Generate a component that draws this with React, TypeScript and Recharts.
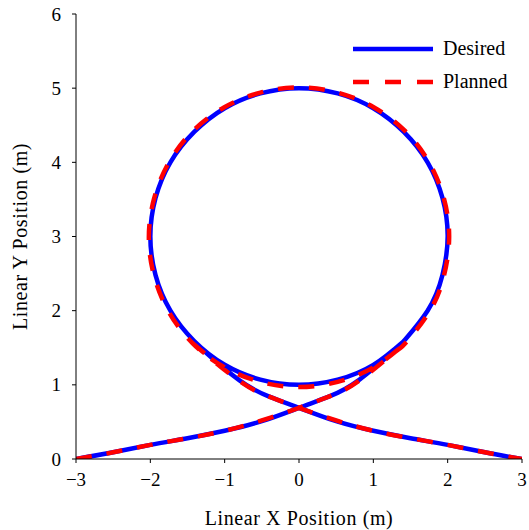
import { LineChart, Line, XAxis, YAxis, Label } from "recharts"

// path of each run: left branch + loop, then a break (null), then right branch
const desiredX = [
  -3, -2.5, -2, -1.5, -1, -0.5, 0, 0.4, 0.8, 1.29,
  1.41, 1.73, 1.93, 2.0, 1.93, 1.73, 1.41, 1.0, 0.52, 0, -0.52, -1.0, -1.41, -1.73, -1.93,
  -2.0, -1.93, -1.73, -1.41, -1.0, -0.52, 0, 0.52, 1.0, 1.41,
  1.41,
  -1.41, -1.29, -0.8, -0.4, 0, 0.5, 1, 1.5, 2, 2.5, 3,
]
const desiredY = [
  0, 0.09, 0.19, 0.28, 0.38, 0.51, 0.69, 0.84, 1.06, 1.47,
  1.59, 2.0, 2.48, 3.0, 3.52, 4.0, 4.41, 4.73, 4.93, 5.0, 4.93, 4.73, 4.41, 4.0, 3.52,
  3.0, 2.48, 2.0, 1.59, 1.27, 1.07, 1.0, 1.07, 1.27, 1.59,
  null,
  1.59, 1.47, 1.06, 0.84, 0.69, 0.51, 0.38, 0.28, 0.19, 0.09, 0,
]

const plannedX = [
  -3, -2.5, -2, -1.5, -1, -0.5, 0, 0.4, 0.8, 1.3,
  1.43, 1.75, 1.95, 2.02, 1.95, 1.75, 1.43, 1.01, 0.52, 0, -0.52, -1.01, -1.43, -1.75, -1.95,
  -2.02, -1.95, -1.75, -1.43, -1.01, -0.52, 0, 0.52, 1.01, 1.43,
  1.43,
  -1.43, -1.3, -0.8, -0.4, 0, 0.5, 1, 1.5, 2, 2.5, 3,
]
const plannedY = [
  0, 0.09, 0.19, 0.28, 0.38, 0.52, 0.69, 0.84, 1.05, 1.45,
  1.56, 1.98, 2.47, 2.99, 3.51, 4.0, 4.42, 4.74, 4.94, 5.01, 4.94, 4.74, 4.42, 4.0, 3.51,
  2.99, 2.47, 1.98, 1.56, 1.24, 1.04, 0.97, 1.04, 1.24, 1.56,
  null,
  1.56, 1.45, 1.05, 0.84, 0.69, 0.52, 0.38, 0.28, 0.19, 0.09, 0,
]

const xTicks = [-3, -2, -1, 0, 1, 2, 3]
const yTicks = [0, 1, 2, 3, 4, 5, 6]

const desired = desiredX.map((x, i) => ({ x, y: desiredY[i] }))
const planned = plannedX.map((x, i) => ({ x, y: plannedY[i] }))

const font = "'Liberation Serif', 'Times New Roman', serif"
const minus = (v: number) => String(v).replace("-", "\u2212")

function XTick({ x, y, payload }: any) {
  return (
    <text x={x} y={y + 14} textAnchor="middle" fontFamily={font} fontSize={19} fill="#000">
      {minus(payload.value)}
    </text>
  )
}

function YTick({ x, y, payload }: any) {
  return (
    <text x={x} y={y + 6.5} textAnchor="end" fontFamily={font} fontSize={19} fill="#000">
      {minus(payload.value)}
    </text>
  )
}

function LegendBox() {
  return (
    <svg width={170} height={70} style={{ position: "absolute", left: 350, top: 30 }}>
      <line x1={3} y1={19} x2={83} y2={19} stroke="#0000ff" strokeWidth={4.5} />
      <text x={93} y={25} fontFamily={font} fontSize={20} fill="#000">Desired</text>
      <line x1={3} y1={52} x2={83} y2={52} stroke="#ff0000" strokeWidth={4.5} strokeDasharray="16 16" />
      <text x={93} y={58} fontFamily={font} fontSize={20} fill="#000">Planned</text>
    </svg>
  )
}

export default function App() {
  return (
    <div style={{ position: "absolute", left: 0, top: 0, width: 529, height: 530, background: "#fff" }}>
      <LineChart width={529} height={530} margin={{ top: 14, right: 7, bottom: 0, left: 0 }}>
        <XAxis
          type="number"
          dataKey="x"
          domain={[-3, 3]}
          ticks={xTicks}
          allowDataOverflow
          tick={<XTick />}
          tickSize={4}
          tickMargin={9}
          tickLine={{ stroke: "#000" }}
          axisLine={{ stroke: "#000" }}
          height={71}
        >
          <Label
            content={({ viewBox }: any) => (
              <text
                x={viewBox.x + viewBox.width / 2}
                y={viewBox.y + 66}
                textAnchor="middle"
                fontFamily={font}
                fontSize={20}
                letterSpacing={0.6}
                fill="#000"
              >
                Linear X Position (m)
              </text>
            )}
          />
        </XAxis>
        <YAxis
          type="number"
          dataKey="y"
          domain={[0, 6]}
          ticks={yTicks}
          allowDataOverflow
          tick={<YTick />}
          tickSize={4}
          tickMargin={11}
          tickLine={{ stroke: "#000" }}
          axisLine={{ stroke: "#000" }}
          width={76}
        >
          <Label
            content={({ viewBox }: any) => {
              const cx = viewBox.x + 27
              const cy = viewBox.y + viewBox.height / 2
              return (
                <text
                  x={cx}
                  y={cy}
                  transform={`rotate(-90, ${cx}, ${cy})`}
                  textAnchor="middle"
                  fontFamily={font}
                  fontSize={20}
                  letterSpacing={0.6}
                  fill="#000"
                >
                  Linear Y Position (m)
                </text>
              )
            }}
          />
        </YAxis>
        <Line
          data={desired}
          dataKey="y"
          name="Desired"
          type="natural"
          stroke="#0000ff"
          strokeWidth={4.5}
          dot={false}
          activeDot={false}
          connectNulls={false}
          isAnimationActive={false}
        />
        <Line
          data={planned}
          dataKey="y"
          name="Planned"
          type="natural"
          stroke="#ff0000"
          strokeWidth={4.5}
          strokeDasharray="16 15"
          dot={false}
          activeDot={false}
          connectNulls={false}
          isAnimationActive={false}
        />
      </LineChart>
      <LegendBox />
    </div>
  )
}
